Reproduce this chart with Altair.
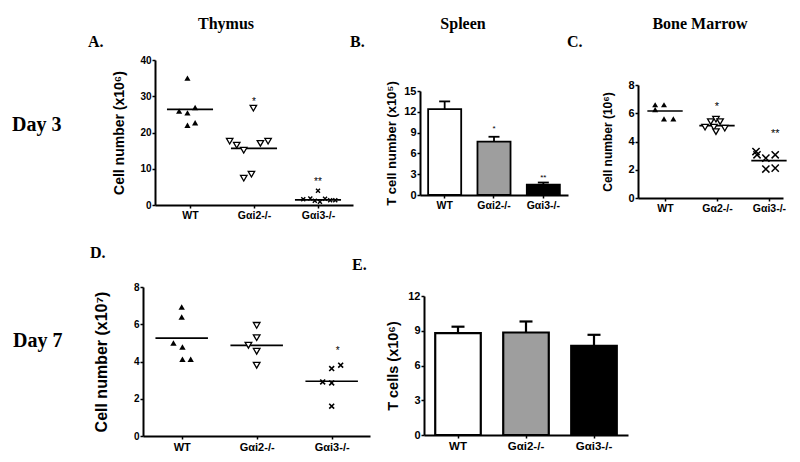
import json
import altair as alt
import pandas as pd

W, H = 784, 446
SANS = "Liberation Sans"
SERIF = "Liberation Serif"
XSHAPE = "M-1,-1L1,1M-1,1L1,-1"

groups = ["WT", "Gαi2-/-", "Gαi3-/-"]
groups_bm = ["WT", "Gα2-/-", "Gαi3-/-"]
bar_fill = ["#ffffff", "#9e9e9e", "#000000"]

# A. Thymus, day 3 (cell number x10^6)
a_wt = [35.0, 25.9, 25.4, 26.9, 22.0, 22.7]
a_wt_jit = [-0.04, -0.17, -0.04, 0.08, -0.04, 0.08]
a_i2 = [26.7, 17.6, 16.5, 15.1, 17.0, 17.6, 7.4, 8.5]
a_i2_jit = [-0.01, -0.38, -0.27, -0.16, 0.10, 0.22, -0.16, -0.04]
a_i3 = [1.6, 1.8, 1.2, 3.9, 0.9, 1.7, 1.3, 1.3]
a_i3_jit = [-0.23, -0.12, -0.05, 0.0, 0.03, 0.11, 0.19, 0.27]
a_median = [26.4, 15.6, 1.4]
a_sig_g = [2, 3]
a_sig = ["*", "**"]
a_sig_y = [28.9, 6.9]
a_sig_jit = [0.0, 0.0]

# B. Spleen, day 3 (T cell number x10^5)
b_mean = [12.4, 7.7, 1.5]
b_sem = [1.1, 0.7, 0.3]
b_sig_grp = ["Gαi2-/-", "Gαi3-/-"]
b_sig = ["*", "**"]
b_sig_y = [9.85, 2.7]

# C. Bone marrow, day 3 (cell number 10^6)
c_wt = [6.6, 6.25, 6.6, 5.6, 5.6]
c_wt_jit = [-0.19, -0.19, -0.02, -0.02, 0.16]
c_i2 = [5.41, 5.58, 5.41, 5.01, 5.01, 4.70, 4.94]
c_i2_jit = [-0.12, -0.02, 0.06, -0.23, -0.06, -0.02, 0.15]
c_i3 = [3.29, 3.06, 2.82, 3.06, 2.05, 2.12]
c_i3_jit = [-0.25, -0.23, -0.06, 0.12, -0.06, 0.12]
c_median = [6.16, 5.13, 2.65]
c_sig_g = [2, 3]
c_sig = ["*", "**"]
c_sig_y = [6.6, 4.66]
c_sig_jit = [0.0, 0.12]

# D. Thymus, day 7 (cell number x10^7)
d_wt = [6.93, 6.39, 4.99, 4.78, 4.12, 4.12]
d_wt_jit = [0.0, 0.0, -0.11, 0.01, 0.01, 0.12]
d_i2 = [5.94, 5.28, 4.87, 4.55, 3.80]
d_i2_jit = [0.0, 0.0, -0.11, 0.0, 0.0]
d_i3 = [3.62, 3.80, 2.90, 2.85, 1.60]
d_i3_jit = [0.0, 0.12, -0.12, 0.0, 0.0]
d_median = [5.26, 4.87, 2.94]
d_sig_g = [3]
d_sig = ["*"]
d_sig_y = [4.69]
d_sig_jit = [0.08]

# E. Spleen, day 7 (T cells x10^6)
e_mean = [8.8, 8.85, 7.7]
e_sem = [0.55, 0.95, 0.95]


def base_axis(**kw):
    d = dict(grid=False, domainColor="black", tickColor="black", labelColor="black",
             titleColor="black", labelFont=SANS, titleFont=SANS, labelFontWeight="bold",
             titleFontWeight="bold", labelOverlap=False, labelFlush=False)
    d.update(kw)
    return alt.Axis(**d)


def scatter_panel(series, median, sig_g, sig, sig_y, sig_jit, labels, xr, xdom, yr, ydom,
                  yvals, ytitle, tfs, tpad, lfs, xlfs, sizes, half, sigfs, xsw=1.4):
    xs = alt.Scale(domain=xdom, range=xr, nice=False, zero=False)
    ys = alt.Scale(domain=ydom, range=yr, nice=False, zero=False)
    xaxis = base_axis(orient="bottom", offset=yr[0] - H, title=None, values=[1, 2, 3],
                      labelExpr=json.dumps(labels, ensure_ascii=False) + "[datum.value - 1]",
                      domainWidth=2, tickWidth=1.5, tickSize=3, labelFontSize=xlfs, labelPadding=2)
    yaxis = base_axis(orient="left", offset=-xr[0], title=ytitle, values=yvals,
                      domainWidth=2, tickWidth=1.5, tickSize=3, labelFontSize=lfs, labelPadding=1,
                      titleFontSize=tfs, titlePadding=tpad)
    layers = []
    mdf = pd.DataFrame({"g": [1, 2, 3], "m": median})
    layers.append(
        alt.Chart(mdf).transform_calculate(x1=f"datum.g - {half}", x2=f"datum.g + {half}")
        .mark_rule(color="black", strokeWidth=1.7)
        .encode(x=alt.X("x1:Q", scale=xs, axis=xaxis), x2="x2:Q",
                y=alt.Y("m:Q", scale=ys, axis=yaxis))
    )
    for gi, (vals, jit, kind) in enumerate(series, start=1):
        df = pd.DataFrame({"g": gi, "v": vals, "j": jit})
        if kind == "up":
            mk = dict(shape="triangle-up", filled=True, color="black", opacity=1, size=sizes[0])
        elif kind == "down":
            mk = dict(shape="triangle-down", filled=True, fill="white", stroke="black",
                      strokeWidth=1.3, opacity=1, size=sizes[1])
        else:
            mk = dict(shape=XSHAPE, filled=False, stroke="black", strokeWidth=xsw,
                      opacity=1, size=sizes[2])
        layers.append(
            alt.Chart(df).transform_calculate(xp="datum.g + datum.j").mark_point(**mk)
            .encode(x=alt.X("xp:Q", scale=xs, axis=xaxis), y=alt.Y("v:Q", scale=ys, axis=yaxis))
        )
    sdf = pd.DataFrame({"g": sig_g, "t": sig, "sy": sig_y, "j": sig_jit})
    layers.append(
        alt.Chart(sdf).transform_calculate(xp="datum.g + datum.j")
        .mark_text(font=SANS, fontSize=sigfs, color="black", baseline="alphabetic", dy=5)
        .encode(x=alt.X("xp:Q", scale=xs, axis=xaxis), y=alt.Y("sy:Q", scale=ys, axis=yaxis),
                text="t:N")
    )
    return alt.layer(*layers)


def bar_panel(means, sems, sig_grp, sig, sig_y, xr, yr, ydom, yvals, ytitle, tfs, tpad,
              lfs, xlfs, cap, sigfs, sw):
    df = pd.DataFrame({"grp": groups, "m": means, "e": sems})
    xs = alt.Scale(domain=groups, range=xr, paddingInner=0.33, paddingOuter=0.165)
    ys = alt.Scale(domain=ydom, range=yr, nice=False, zero=False)
    fs = alt.Scale(domain=groups, range=bar_fill)
    xaxis = base_axis(orient="bottom", offset=yr[0] - H, title=None, labelAngle=0,
                      domainWidth=2, tickWidth=1.5, tickSize=3, labelFontSize=xlfs, labelPadding=2)
    yaxis = base_axis(orient="left", offset=-xr[0], title=ytitle, values=yvals,
                      domainWidth=2, tickWidth=1.5, tickSize=3, labelFontSize=lfs, labelPadding=1,
                      titleFontSize=tfs, titlePadding=tpad)
    X = alt.X("grp:N", scale=xs, axis=xaxis)
    base = alt.Chart(df).transform_calculate(top="datum.m + datum.e")
    err = base.mark_rule(color="black", strokeWidth=sw).encode(
        x=X, y=alt.Y("m:Q", scale=ys, axis=yaxis), y2="top:Q")
    capm = base.mark_tick(color="black", thickness=sw, size=cap, opacity=1).encode(
        x=X, y=alt.Y("top:Q", scale=ys, axis=yaxis))
    bars = base.mark_bar(stroke="black", strokeWidth=sw, opacity=1).encode(
        x=X, y=alt.Y("m:Q", scale=ys, axis=yaxis, stack=None),
        fill=alt.Fill("grp:N", scale=fs, legend=None))
    layers = [bars, err, capm]
    if sig:
        sdf = pd.DataFrame({"grp": sig_grp, "t": sig, "sy": sig_y})
        layers.append(
            alt.Chart(sdf).mark_text(font=SANS, fontSize=sigfs, color="black",
                                     baseline="alphabetic", dy=4)
            .encode(x=X, y=alt.Y("sy:Q", scale=ys, axis=yaxis), text="t:N"))
    return alt.layer(*layers)


panelA = scatter_panel(
    [(a_wt, a_wt_jit, "up"), (a_i2, a_i2_jit, "down"), (a_i3, a_i3_jit, "x")],
    a_median, a_sig_g, a_sig, a_sig_y, a_sig_jit, groups,
    xr=[147, 345], xdom=[0.453, 3.547], yr=[197, 52], ydom=[0, 40],
    yvals=[0, 10, 20, 30, 40], ytitle="Cell number (x10⁶)", tfs=14, tpad=13,
    lfs=10, xlfs=10.5, sizes=[38, 42, 16], half=0.36, sigfs=10)

panelB = bar_panel(b_mean, b_sem, b_sig_grp, b_sig, b_sig_y,
                   xr=[412, 560], yr=[187, 83], ydom=[0, 15], yvals=[0, 3, 6, 9, 12, 15],
                   ytitle="T cell number (x10⁵)", tfs=13, tpad=5, lfs=11, xlfs=10.5,
                   cap=11, sigfs=8, sw=1.8)

panelC = scatter_panel(
    [(c_wt, c_wt_jit, "up"), (c_i2, c_i2_jit, "down"), (c_i3, c_i3_jit, "x")],
    c_median, c_sig_g, c_sig, c_sig_y, c_sig_jit, groups_bm,
    xr=[630, 775], xdom=[0.48, 3.27], yr=[190, 77], ydom=[0, 8],
    yvals=[0, 2, 4, 6, 8], ytitle="Cell number (10⁶)", tfs=12, tpad=13,
    lfs=11, xlfs=10.5, sizes=[36, 42, 52], half=0.34, sigfs=11, xsw=1.5)

panelD = scatter_panel(
    [(d_wt, d_wt_jit, "up"), (d_i2, d_i2_jit, "down"), (d_i3, d_i3_jit, "x")],
    d_median, d_sig_g, d_sig, d_sig_y, d_sig_jit, groups,
    xr=[135, 362], xdom=[0.484, 3.511], yr=[428, 279], ydom=[0, 8],
    yvals=[0, 2, 4, 6, 8], ytitle="Cell number (x10⁷)", tfs=16, tpad=24,
    lfs=10, xlfs=11, sizes=[40, 44, 24], half=0.35, sigfs=10, xsw=1.6)

panelE = bar_panel(e_mean, e_sem, [], [], [],
                   xr=[416, 620], yr=[427, 288], ydom=[0, 12], yvals=[0, 3, 6, 9, 12],
                   ytitle="T cells (x10⁶)", tfs=14.5, tpad=7, lfs=11, xlfs=11.5,
                   cap=13, sigfs=8, sw=2.2)


def label(text, x, y, size, align="center", font=SERIF):
    return alt.Chart(pd.DataFrame({"t": [text]})).mark_text(
        font=font, fontSize=size, fontWeight="bold", color="black", align=align,
        baseline="alphabetic").encode(text="t:N", x=alt.value(x), y=alt.value(y))


texts = [
    label("Thymus", 218, 21, 16),
    label("Spleen", 455, 21, 16),
    label("Bone Marrow", 692, 21, 16),
    label("A.", 80, 39, 16, "left"),
    label("B.", 342, 39, 16, "left"),
    label("C.", 559, 39, 16, "left"),
    label("D.", 82, 250, 16, "left"),
    label("E.", 344, 262, 16, "left"),
    label("Day 3", 4, 123, 20, "left"),
    label("Day 7", 5, 339, 20, "left"),
]

chart = alt.layer(panelA, panelB, panelC, panelD, panelE, *texts).resolve_scale(
    x="independent", y="independent", fill="independent"
).properties(
    width=W, height=H, autosize=alt.AutoSizeParams(type="none"), padding=0
).configure(background="white").configure_view(stroke=None)

chart.save("out.html", embed_options={"renderer": "svg", "actions": False})
